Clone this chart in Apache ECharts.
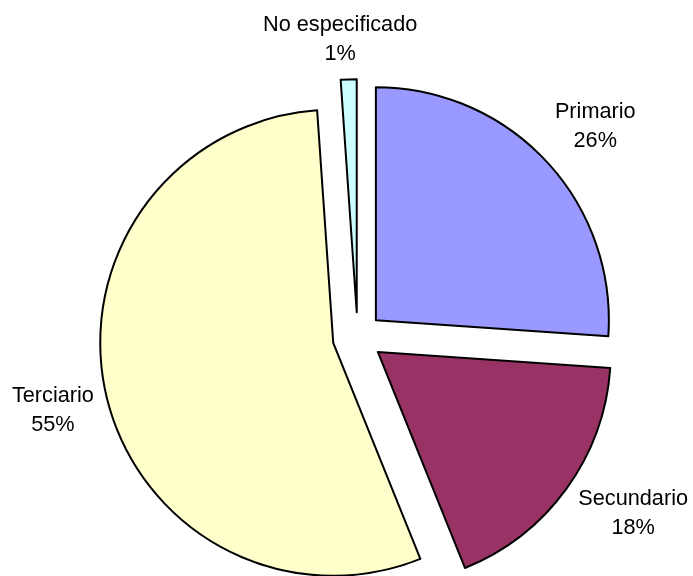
<!DOCTYPE html>
<html>
<head>
<meta charset="utf-8">
<script src="https://cdn.jsdelivr.net/npm/echarts@6/dist/echarts.min.js"></script>
<style>
  html, body { margin: 0; padding: 0; background: #ffffff; }
  #chart { width: 693px; height: 576px; }
</style>
</head>
<body>
<div id="chart"></div>
<script>
// sectors, clockwise from 12 o'clock
var categories = ['Primario', 'Secundario', 'Terciario', 'No especificado'];
var shares = [26.1, 17.8, 55.0, 1.1];
var colors = ['#9999FF', '#993366', '#FFFFCC', '#CCFFFF'];

var chart = echarts.init(document.getElementById('chart'));

// label line [length, length2] per slice (lines hidden, only used to place the text)
var labelPlace = [[51.5, -34], [42, -27], [68, -59], [40, -75]];

var data = categories.map(function (name, i) {
  return {
    name: name,
    value: shares[i],
    selected: true,
    itemStyle: { color: colors[i] },
    labelLine: { show: false, length: labelPlace[i][0], length2: labelPlace[i][1] }
  };
});

var option = {
  animation: false,
  backgroundColor: '#ffffff',
  series: [
    {
      type: 'pie',
      center: [357.6, 337.2],
      radius: 233,
      startAngle: 90,
      clockwise: true,
      selectedMode: 'multiple',
      selectedOffset: 25,
      avoidLabelOverlap: false,
      percentPrecision: 0,
      itemStyle: { borderColor: '#000000', borderWidth: 2 },
      emphasis: { disabled: true },
      label: {
        show: true,
        position: 'outside',
        formatter: '{t|{b}}\n{t|{d}%}',
        rich: {
          t: {
            align: 'center',
            fontFamily: 'Liberation Sans, Arial, sans-serif',
            fontSize: 21.7,
            lineHeight: 29,
            color: '#000000'
          }
        }
      },
      data: data
    }
  ]
};

chart.setOption(option);
</script>
</body>
</html>
